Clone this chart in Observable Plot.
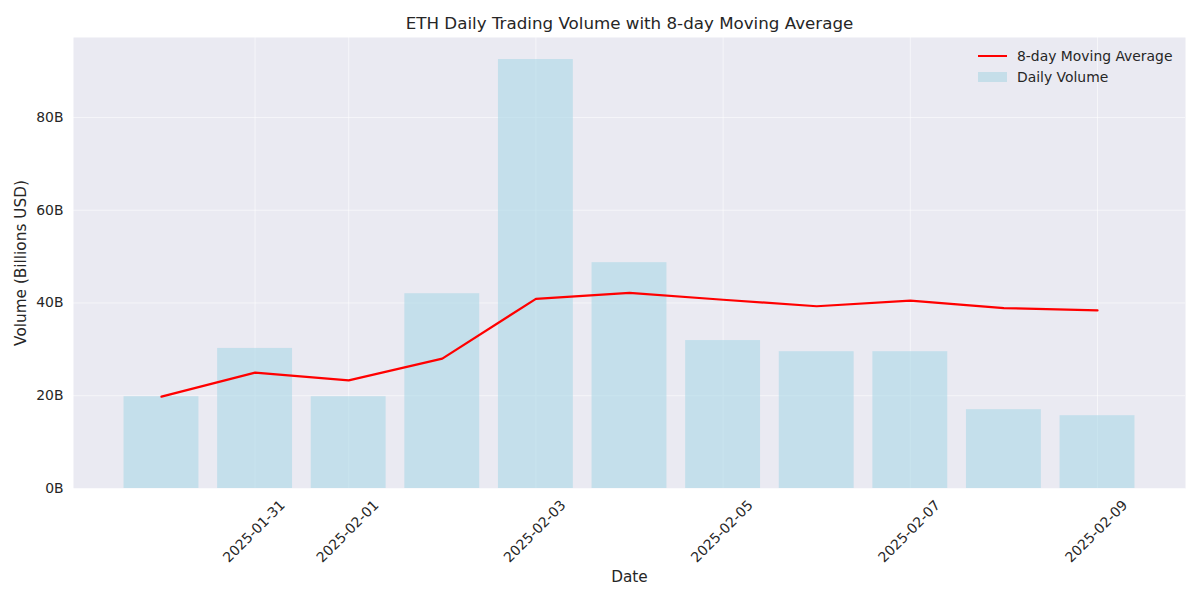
<!DOCTYPE html>
<html><head><meta charset="utf-8">
<script src="https://cdn.jsdelivr.net/npm/d3@7"></script>
<script src="https://cdn.jsdelivr.net/npm/@observablehq/plot@0.6"></script>
<style>
body{margin:0;background:#fff;font-family:"DejaVu Sans",sans-serif;color:#262626}
#c{position:relative;width:1200px;height:600px}
.lg{position:absolute;left:978px;font-size:13.9px;display:flex;align-items:center}
.lg span.sw{display:inline-block;width:29px;margin-right:10px}
</style>
</head><body><div id="c"></div>
<script>
const dates = ["2025-01-30","2025-01-31","2025-02-01","2025-02-02","2025-02-03","2025-02-04","2025-02-05","2025-02-06","2025-02-07","2025-02-08","2025-02-09"];
const volumes = [19.8,30.2,19.8,42.0,92.5,48.7,31.9,29.5,29.5,17.0,15.7];
const movingAvg = [19.8,25.0,23.3,28.0,40.9,42.2,40.7,39.3,40.5,38.9,38.4];
const xTicks = ["2025-01-31","2025-02-01","2025-02-03","2025-02-05","2025-02-07","2025-02-09"];
const yTicks = [0,20,40,60,80];

const DAY = 864e5;
const parse = d3.utcParse("%Y-%m-%d");
const rows = dates.map((d,i)=>({date:parse(d), vol:volumes[i], ma:movingAvg[i]}));
const tickDates = xTicks.map(parse);

const chart = Plot.plot({
  width:1200, height:600,
  marginTop:37, marginRight:15, marginBottom:112, marginLeft:73,
  style:{fontFamily:"DejaVu Sans, sans-serif", fontSize:"13.9px", color:"#262626", background:"#fff"},
  x:{type:"utc", domain:[new Date(+parse(dates[0]) - 0.94*DAY), new Date(+parse(dates[dates.length-1]) + 0.94*DAY)], axis:null},
  y:{domain:[0,97.25], axis:null},
  marks:[
    Plot.frame({fill:"#EAEAF2", stroke:null}),
    Plot.gridY(yTicks,{stroke:"white", strokeOpacity:0.55, strokeWidth:1}),
    Plot.gridX(tickDates,{stroke:"white", strokeOpacity:0.55, strokeWidth:1}),
    Plot.rectY(rows,{x1:d=>new Date(+d.date - 0.4*DAY), x2:d=>new Date(+d.date + 0.4*DAY), y:"vol", fill:"#ADD8E6", fillOpacity:0.62}),
    Plot.line(rows,{x:"date", y:"ma", stroke:"red", strokeWidth:2.2}),
    Plot.axisY(yTicks,{tickSize:0, tickPadding:10, tickFormat:d=>d+"B", label:null, fontSize:13.9}),
    Plot.text(tickDates,{x:d=>d, frameAnchor:"bottom", dy:43, dx:-1, rotate:-45, textAnchor:"middle", lineAnchor:"middle", text:d=>d3.utcFormat("%Y-%m-%d")(d), fontSize:13.9, fill:"#262626"}),
    Plot.text(["ETH Daily Trading Volume with 8-day Moving Average"],{frameAnchor:"top", dy:-14, lineAnchor:"middle", textAnchor:"middle", fontSize:16.7, fill:"#262626"}),
    Plot.text(["Date"],{frameAnchor:"bottom", dy:89, lineAnchor:"middle", textAnchor:"middle", fontSize:15.3, fill:"#262626"}),
    Plot.text(["Volume (Billions USD)"],{frameAnchor:"left", dx:-52, rotate:-90, lineAnchor:"middle", textAnchor:"middle", fontSize:15.3, fill:"#262626"})
  ]
});
const c = document.getElementById("c");
c.appendChild(chart);
const l1 = document.createElement("div"); l1.className="lg"; l1.style.top="48px";
l1.innerHTML='<span class="sw" style="height:2px;background:red"></span>8-day Moving Average';
const l2 = document.createElement("div"); l2.className="lg"; l2.style.top="69px";
l2.innerHTML='<span class="sw" style="height:10px;background:#C5DEE9"></span>Daily Volume';
c.appendChild(l1); c.appendChild(l2);
</script>
</body></html>
